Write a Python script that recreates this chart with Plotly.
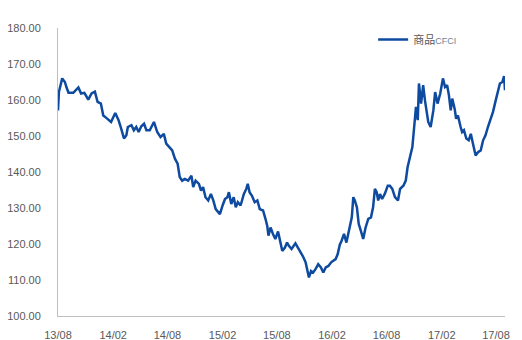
import plotly.graph_objects as go

# 商品CFCI index, sampled from the series (date, level)
dates = [
    "2013-08-01", "2013-08-04", "2013-08-15", "2013-08-24", "2013-08-29", "2013-09-05",
    "2013-09-21", "2013-10-08", "2013-10-17", "2013-10-28", "2013-11-10", "2013-11-21",
    "2013-12-02", "2013-12-11", "2013-12-22", "2013-12-30", "2014-01-08", "2014-01-16",
    "2014-01-25", "2014-02-08", "2014-02-19", "2014-02-28", "2014-03-09", "2014-03-17",
    "2014-03-22", "2014-04-03", "2014-04-11", "2014-04-19", "2014-04-27", "2014-05-06",
    "2014-05-15", "2014-05-23", "2014-06-03", "2014-06-17", "2014-06-28", "2014-07-09",
    "2014-07-20", "2014-07-28", "2014-08-09", "2014-08-17", "2014-08-26", "2014-09-04",
    "2014-09-11", "2014-09-19", "2014-09-28", "2014-10-09", "2014-10-20", "2014-10-26",
    "2014-11-03", "2014-11-14", "2014-11-21", "2014-11-28", "2014-12-06", "2014-12-15",
    "2014-12-24", "2015-01-01", "2015-01-09", "2015-01-18", "2015-01-23", "2015-02-01",
    "2015-02-09", "2015-02-17", "2015-02-22", "2015-03-02", "2015-03-10", "2015-03-17",
    "2015-03-24", "2015-04-02", "2015-04-13", "2015-04-21", "2015-04-26", "2015-05-02",
    "2015-05-10", "2015-05-19", "2015-05-28", "2015-06-05", "2015-06-16", "2015-06-24",
    "2015-06-30", "2015-07-04", "2015-07-11", "2015-07-19", "2015-07-27", "2015-08-05",
    "2015-08-11", "2015-08-19", "2015-08-28", "2015-09-04", "2015-09-10", "2015-09-19",
    "2015-10-02", "2015-10-11", "2015-10-20", "2015-10-28", "2015-11-05", "2015-11-12",
    "2015-11-16", "2015-11-23", "2015-11-30", "2015-12-08", "2015-12-17", "2015-12-26",
    "2016-01-03", "2016-01-11", "2016-01-20", "2016-01-29", "2016-02-06", "2016-02-13",
    "2016-02-20", "2016-02-27", "2016-03-04", "2016-03-12", "2016-03-20", "2016-04-01",
    "2016-04-07", "2016-04-12", "2016-04-17", "2016-04-24", "2016-04-30", "2016-05-07",
    "2016-05-15", "2016-05-23", "2016-06-01", "2016-06-10", "2016-06-17", "2016-06-23",
    "2016-06-29", "2016-07-04", "2016-07-10", "2016-07-17", "2016-07-26", "2016-08-05",
    "2016-08-12", "2016-08-20", "2016-08-29", "2016-09-08", "2016-09-15", "2016-09-26",
    "2016-10-04", "2016-10-10", "2016-10-18", "2016-10-26", "2016-11-02", "2016-11-07",
    "2016-11-13", "2016-11-17", "2016-11-24", "2016-12-01", "2016-12-07", "2016-12-13",
    "2016-12-18", "2016-12-26", "2017-01-04", "2017-01-10", "2017-01-18", "2017-01-27",
    "2017-02-05", "2017-02-12", "2017-02-19", "2017-02-25", "2017-03-03", "2017-03-08",
    "2017-03-16", "2017-03-21", "2017-03-27", "2017-04-05", "2017-04-10", "2017-04-16",
    "2017-04-24", "2017-05-02", "2017-05-09", "2017-05-16", "2017-05-25", "2017-06-02",
    "2017-06-11", "2017-06-19", "2017-06-27", "2017-07-05", "2017-07-14", "2017-07-22",
    "2017-07-31", "2017-08-06", "2017-08-14", "2017-08-22", "2017-08-28", "2017-08-31",
]
cfci = [
    157.1, 162.2, 166.0, 165.0, 163.6, 162.0,
    162.0, 163.5, 161.8, 162.0, 160.1, 161.8,
    162.3, 159.5, 159.0, 155.7, 155.1, 154.5,
    153.9, 156.4, 154.4, 152.0, 149.3, 150.2,
    152.5, 153.0, 151.6, 152.5, 151.1, 152.7,
    153.4, 151.6, 151.6, 153.9, 151.1, 149.7,
    150.6, 147.9, 146.9, 146.0, 143.7, 142.3,
    138.6, 137.6, 138.1, 137.6, 139.0, 135.8,
    137.6, 136.7, 134.8, 135.8, 133.0, 132.1,
    133.9, 132.1, 129.7, 128.8, 128.3, 130.7,
    132.5, 133.0, 134.4, 131.1, 133.0, 130.2,
    131.6, 130.7, 133.9, 135.3, 136.7, 134.4,
    133.4, 131.6, 132.1, 129.7, 129.3, 127.0,
    125.0, 122.3, 124.6, 122.8, 121.4, 123.5,
    120.9, 118.1, 119.0, 120.4, 119.5, 118.6,
    120.2, 119.0, 117.6, 116.4, 114.9, 112.5,
    110.7, 112.5, 112.1, 113.0, 114.4, 113.5,
    112.1, 113.5, 113.9, 114.9, 115.3, 115.8,
    117.2, 119.8, 120.9, 122.8, 120.4, 124.6,
    127.4, 133.0, 132.1, 130.2, 125.6, 123.7,
    121.4, 124.6, 127.0, 127.4, 130.2, 135.3,
    134.4, 132.1, 133.9, 132.5, 133.9, 136.2,
    136.2, 135.3, 133.0, 132.1, 135.3, 136.2,
    137.6, 141.3, 144.1, 146.9, 153.4, 158.1,
    154.4, 164.6, 159.0, 164.1, 159.9, 157.1,
    153.9, 152.5, 157.1, 162.2, 159.0, 161.8,
    166.0, 163.6, 164.1, 161.3, 157.1, 160.4,
    157.6, 154.8, 155.7, 152.5, 151.1, 151.6,
    149.3, 148.8, 150.6, 147.9, 144.6, 145.5,
    146.0, 148.8, 150.2, 152.5, 154.8, 156.7,
    159.9, 161.8, 164.6, 165.0, 166.6, 162.7,
]

y_ticks = [100, 110, 120, 130, 140, 150, 160, 170, 180]

fig = go.Figure()
fig.add_trace(go.Scatter(
    x=dates, y=cfci, mode="lines",
    name="商品<span style='font-size:9px;color:#6F7F99'>CFCI</span>",
    line=dict(color="#0E4A9F", width=2.5),
))

font_family = "Liberation Sans, Noto Sans CJK SC, sans-serif"
fig.update_layout(
    width=522, height=340,
    margin=dict(l=58, r=17, t=28, b=24),
    paper_bgcolor="white", plot_bgcolor="white",
    font=dict(family=font_family, size=11, color="#595959"),
    showlegend=True,
    legend=dict(x=0.705, y=0.96, xanchor="left", yanchor="middle",
                bgcolor="rgba(0,0,0,0)", font=dict(size=11, color="#595959"),
                itemwidth=30),
    xaxis=dict(
        type="date", range=["2013-08-01", "2017-08-31"],
        tick0="2013-08-01", dtick="M6", tickformat="%y/%m",
        showgrid=False, zeroline=False,
        showline=True, linecolor="#BFBFBF", linewidth=1,
        ticks="", ticklen=0, ticklabelstandoff=9, automargin=False,
    ),
    yaxis=dict(
        range=[100, 180], tickvals=y_ticks, tickformat=".2f",
        showgrid=False, zeroline=False,
        showline=True, linecolor="#BFBFBF", linewidth=1,
        ticks="", ticklen=0, ticklabelstandoff=14, automargin=False,
    ),
)

fig.write_html("out.html")
